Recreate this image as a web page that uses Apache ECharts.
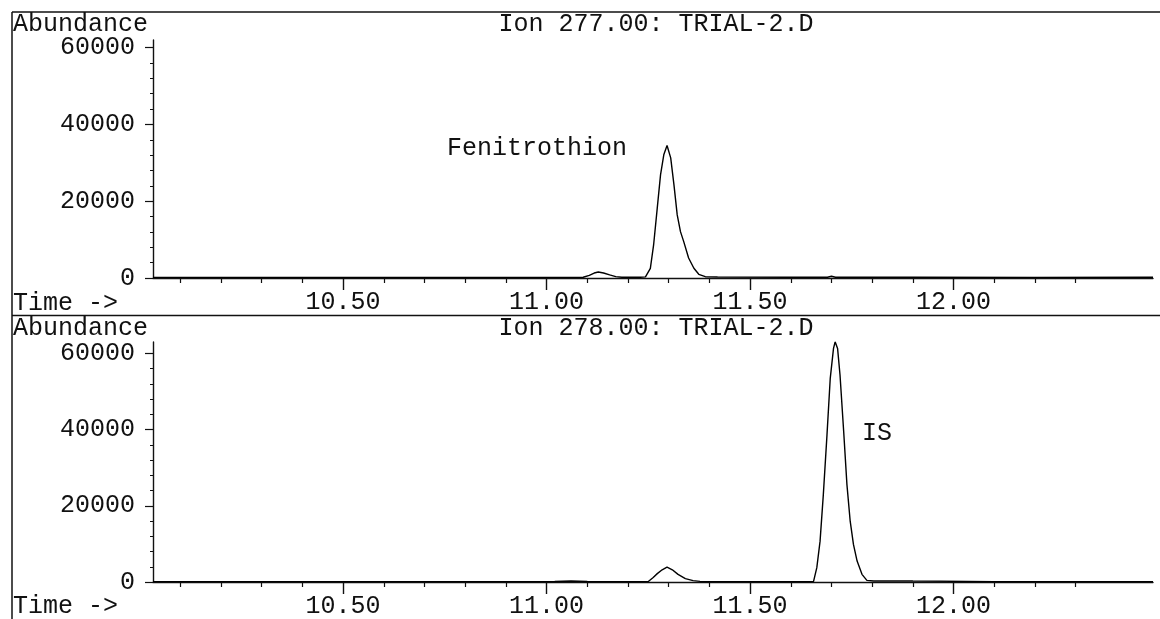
<!DOCTYPE html>
<html>
<head>
<meta charset="utf-8">
<title>Ion 277 / 278 chromatogram</title>
<script src="https://cdn.jsdelivr.net/npm/echarts@6/dist/echarts.min.js"></script>
<style>
  html, body { margin: 0; padding: 0; background: #fff; }
  #chart { width: 1160px; height: 619px; }
</style>
</head>
<body>
<div id="chart"></div>
<script>
// Ion 277.00 trace (retention time in min, abundance)
const topTime = [10.033, 10.30, 10.60, 10.90, 11.05, 11.09, 11.105, 11.117, 11.127, 11.14, 11.155, 11.17, 11.185,
  11.23, 11.243, 11.255, 11.263, 11.272, 11.280, 11.288, 11.296, 11.305, 11.313, 11.321, 11.329, 11.337,
  11.349, 11.362, 11.374, 11.390, 11.42, 11.60, 11.69, 11.70, 11.71, 11.90, 12.20, 12.49]
const topAbund = [150, 120, 150, 130, 150, 200, 700, 1300, 1550, 1300, 800, 350, 200,
  200, 300, 2530, 8610, 18260, 26870, 32090, 34520, 31300, 24260, 16440, 12080, 9470,
  5220, 2530, 965, 340, 250, 200, 200, 450, 200, 180, 150, 200]

// Ion 278.00 trace
const botTime = [10.033, 10.40, 10.80, 11.02, 11.06, 11.10, 11.20, 11.250, 11.262, 11.272, 11.284, 11.296,
  11.309, 11.323, 11.341, 11.360, 11.377, 11.50, 11.62, 11.656, 11.664, 11.672, 11.680, 11.689, 11.697,
  11.705, 11.709, 11.715, 11.721, 11.730, 11.738, 11.746, 11.754, 11.763, 11.775, 11.787, 11.804, 11.85,
  11.90, 12.10, 12.49]
const botAbund = [100, 100, 100, 120, 250, 120, 100, 150, 1200, 2200, 3200, 3900,
  3200, 2000, 900, 350, 150, 100, 100, 150, 3770, 10720, 22940, 38630, 53470,
  61310, 63040, 61310, 54330, 39500, 25560, 15960, 9860, 5490, 2010, 440, 250, 300,
  250, 100, 100]

// axis ticks
const timeMajor = [10.5, 11.0, 11.5, 12.0]
const timeMinor = [10.1, 10.2, 10.3, 10.4, 10.6, 10.7, 10.8, 10.9, 11.1, 11.2, 11.3, 11.4,
  11.6, 11.7, 11.8, 11.9, 12.1, 12.2, 12.3]
const abundMajor = [0, 20000, 40000, 60000]
const abundMinor = [4000, 8000, 12000, 16000, 24000, 28000, 32000, 36000, 44000, 48000, 52000, 56000]

const panelTitles = ['Ion 277.00: TRIAL-2.D', 'Ion 278.00: TRIAL-2.D']
const peakNames = ['Fenitrothion', 'IS']

const FONT = '"Liberation Mono", "DejaVu Sans Mono", monospace'
const FS = 25
const INK = '#111'
const TMIN = 10.033
const TMAX = 12.49

const toPairs = (xs, ys) => xs.map((x, i) => [x, ys[i]])

const timeAxis = (grid) => ({
  type: 'value', gridIndex: grid, min: TMIN, max: TMAX, position: 'bottom',
  splitLine: { show: false },
  axisLine: { lineStyle: { color: INK, width: 1.4 } },
  axisTick: { customValues: timeMajor, length: 12, lineStyle: { color: INK, width: 1.4 } },
  axisLabel: {
    customValues: timeMajor, margin: 12, color: INK, fontFamily: FONT, fontSize: FS,
    formatter: (v) => v.toFixed(2)
  }
})
const timeMinorAxis = (grid) => ({
  type: 'value', gridIndex: grid, min: TMIN, max: TMAX, position: 'bottom',
  splitLine: { show: false }, axisLine: { show: false }, axisLabel: { show: false },
  axisTick: { customValues: timeMinor, length: 5, lineStyle: { color: INK, width: 1.2 } }
})
const abundAxis = (grid, max) => ({
  type: 'value', gridIndex: grid, min: 0, max: max, position: 'left',
  splitLine: { show: false },
  axisLine: { show: true, lineStyle: { color: INK, width: 1.4 } },
  axisTick: { show: true, customValues: abundMajor, length: 8, lineStyle: { color: INK, width: 1.2 } },
  axisLabel: {
    customValues: abundMajor, margin: 18, color: INK, fontFamily: FONT, fontSize: FS,
    formatter: (v) => String(v)
  }
})
const abundMinorAxis = (grid, max) => ({
  type: 'value', gridIndex: grid, min: 0, max: max, position: 'left',
  splitLine: { show: false }, axisLine: { show: false }, axisLabel: { show: false },
  axisTick: { show: true, customValues: abundMinor, length: 3, lineStyle: { color: INK, width: 1 } }
})

const text = (x, y, str, align) => ({
  type: 'text', x: x, y: y,
  style: { text: str, fill: INK, font: FS + 'px ' + FONT, textAlign: align || 'left', textVerticalAlign: 'middle' }
})
const rule = (x1, y1, x2, y2) => ({
  type: 'line', shape: { x1, y1, x2, y2 }, style: { stroke: INK, lineWidth: 1.5 }
})

const chart = echarts.init(document.getElementById('chart'))
chart.setOption({
  backgroundColor: '#fff',
  animation: false,
  grid: [
    { left: 153, right: 7, top: 40, bottom: 341 },
    { left: 153, right: 7, top: 342, bottom: 36 }
  ],
  xAxis: [timeAxis(0), timeMinorAxis(0), timeAxis(1), timeMinorAxis(1)],
  yAxis: [abundAxis(0, 62000), abundMinorAxis(0, 62000), abundAxis(1, 63000), abundMinorAxis(1, 63000)],
  series: [
    {
      name: panelTitles[0], type: 'line', xAxisIndex: 0, yAxisIndex: 0,
      data: toPairs(topTime, topAbund), showSymbol: false,
      lineStyle: { color: '#000', width: 1.4 }
    },
    {
      name: panelTitles[1], type: 'line', xAxisIndex: 2, yAxisIndex: 2,
      data: toPairs(botTime, botAbund), showSymbol: false,
      lineStyle: { color: '#000', width: 1.4 }
    }
  ],
  graphic: [
    rule(12, 12, 1160, 12),
    rule(12, 12, 12, 619),
    rule(12, 315.5, 1160, 315.5),
    text(13, 24, 'Abundance'),
    text(656, 24, panelTitles[0], 'center'),
    text(13, 303, 'Time ->'),
    text(447, 148, peakNames[0]),
    text(13, 328, 'Abundance'),
    text(656, 328, panelTitles[1], 'center'),
    text(13, 606, 'Time ->'),
    text(862, 433, peakNames[1])
  ]
})
</script>
</body>
</html>
